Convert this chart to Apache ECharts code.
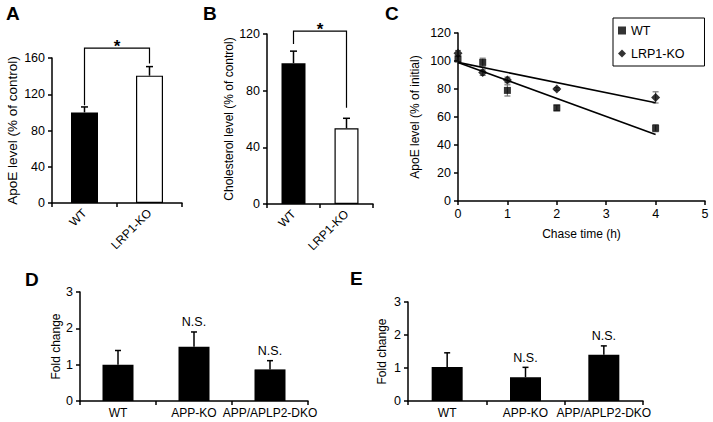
<!DOCTYPE html>
<html>
<head>
<meta charset="utf-8">
<script src="https://cdn.jsdelivr.net/npm/echarts@6/dist/echarts.min.js"></script>
<style>
html,body{margin:0;padding:0;background:#fff;}
#main{width:713px;height:422px;}
</style>
</head>
<body>
<div id="main"></div>
<script>
// ---- Data ----
const catsAB = ['WT', 'LRP1-KO'];
const apoeA = [100, 140.5];
const apoeAErr = [6, 10];
const bracketA = [0, 1, 108, 171, 154];   // from idx, to idx, left bottom, top, right bottom
const cholB = [99.4, 53.5];
const cholBErr = [8.5, 7];
const bracketB = [0, 1, 113, 122, 68];

const chaseTime = [0, 0.5, 1, 2, 4];
const wtC = [101.5, 99, 79, 66.5, 52];
const wtCErr = [2, 3, 4, 2, 2.5];
const koC = [105.5, 91.7, 86.5, 80, 74];
const koCErr = [2, 2, 2, 1, 4];
const wtFit = [[0, 99], [4, 47.5]];
const koFit = [[0, 99], [4, 70.2]];
const cTicksX = [0, 5, 1];
const cTicksY = [0, 120, 20];

const catsDE = ['WT', 'APP-KO', 'APP/APLP2-DKO'];
const foldD = [1.0, 1.49, 0.87];
const foldDErr = [0.39, 0.41, 0.24];
const foldE = [1.03, 0.72, 1.4];
const foldEErr = [0.43, 0.3, 0.27];
const nsDE = ['', 'N.S.', 'N.S.'];

const panelLabels = ['A', 'B', 'C', 'D', 'E'];

// ---- Helpers ----
const font = 'Liberation Sans, Arial, Helvetica, sans-serif';
const axLine = {show: true, lineStyle: {color: '#000', width: 1.5}};
const axTick = {show: true, length: 4, lineStyle: {color: '#000', width: 1.5}};

function yAx(grid, max, interval, name, gap, nameSize) {
  return {
    type: 'value', gridIndex: grid, min: 0, max: max, interval: interval,
    name: name, nameLocation: 'middle', nameGap: gap,
    nameTextStyle: {fontSize: nameSize, color: '#000', fontFamily: font},
    axisLine: axLine, axisTick: axTick,
    axisLabel: {color: '#000', fontSize: 12.5, margin: 7, fontFamily: font},
    splitLine: {show: false}
  };
}
function xCat(grid, data, rotate) {
  return {
    type: 'category', gridIndex: grid, data: data,
    axisLine: axLine, axisTick: {show: true, length: 4, alignWithLabel: false, lineStyle: {color: '#000', width: 1.5}},
    axisLabel: {color: '#000', fontSize: 12, margin: rotate ? 8 : 6, rotate: rotate, interval: 0, fontFamily: font},
    splitLine: {show: false}
  };
}
function errRender(capHalf, both, color, width, labels) {
  return function (params, api) {
    const x = api.value(0), v = api.value(1), e = api.value(2);
    const top = api.coord([x, v + e]);
    const base = api.coord([x, both ? v - e : v]);
    const st = {stroke: color, lineWidth: width};
    const ch = [
      {type: 'line', shape: {x1: top[0], y1: top[1], x2: base[0], y2: base[1]}, style: st},
      {type: 'line', shape: {x1: top[0] - capHalf, y1: top[1], x2: top[0] + capHalf, y2: top[1]}, style: st}
    ];
    if (both) ch.push({type: 'line', shape: {x1: base[0] - capHalf, y1: base[1], x2: base[0] + capHalf, y2: base[1]}, style: st});
    if (labels && labels[params.dataIndex]) {
      ch.push({type: 'text', x: top[0], y: top[1] - 3,
        style: {text: labels[params.dataIndex], fill: '#000', font: '12.5px ' + font, align: 'center', verticalAlign: 'bottom'}});
    }
    return {type: 'group', children: ch};
  };
}
function bracketRender(params, api) {
  const a = api.value(0), b = api.value(1);
  const lb = api.coord([a, api.value(2)]);
  const lt = api.coord([a, api.value(3)]);
  const rt = api.coord([b, api.value(3)]);
  const rb = api.coord([b, api.value(4)]);
  return {type: 'group', children: [
    {type: 'polyline', shape: {points: [lb, lt, rt, rb]}, style: {stroke: '#000', lineWidth: 1.2, fill: null}},
    {type: 'text', x: (lt[0] + rt[0]) / 2, y: lt[1] - 2,
      style: {text: '*', fill: '#000', font: 'bold 17px ' + font, align: 'center', verticalAlign: 'middle'}}
  ]};
}
function barData(vals, styles) {
  return vals.map((v, i) => ({value: v, itemStyle: styles[i]}));
}
const blackBar = {color: '#000'};
const whiteBar = {color: '#fff', borderColor: '#000', borderWidth: 1.2};

const chart = echarts.init(document.getElementById('main'), null, {renderer: 'svg'});
const labelPos = [[6, 4], [203, 4], [385, 4], [25, 270], [350, 269]];

chart.setOption({
  animation: false,
  backgroundColor: '#fff',
  textStyle: {fontFamily: font},
  title: panelLabels.map((t, i) => ({
    text: t, left: labelPos[i][0], top: labelPos[i][1], padding: 0,
    textStyle: {fontSize: 19, fontWeight: 'bold', color: '#000', fontFamily: font}
  })),
  legend: {
    data: [{name: 'WT', icon: 'rect'}, {name: 'LRP1-KO', icon: 'diamond'}],
    orient: 'vertical', left: 613, top: 18, itemWidth: 8, itemHeight: 8, itemGap: 10,
    padding: [6, 20, 6, 5], borderColor: '#000', borderWidth: 1, selectedMode: false,
    textStyle: {fontSize: 12.5, color: '#000', fontFamily: font}
  },
  grid: [
    {left: 52, top: 58, width: 130, height: 145},
    {left: 267, top: 34, width: 106, height: 170},
    {left: 458, top: 33, width: 247, height: 168},
    {left: 80, top: 292, width: 228, height: 109},
    {left: 408, top: 302, width: 235, height: 99}
  ],
  xAxis: [
    xCat(0, catsAB, 45),
    xCat(1, catsAB, 45),
    {type: 'value', gridIndex: 2, min: cTicksX[0], max: cTicksX[1], interval: cTicksX[2],
      name: 'Chase time (h)', nameLocation: 'middle', nameGap: 27,
      nameTextStyle: {fontSize: 12, color: '#000', fontFamily: font},
      axisLine: axLine, axisTick: axTick,
      axisLabel: {color: '#000', fontSize: 12.5, margin: 6, fontFamily: font}, splitLine: {show: false}},
    xCat(3, catsDE, 0),
    xCat(4, catsDE, 0)
  ],
  yAxis: [
    yAx(0, 160, 40, 'ApoE level (% of control)', 33, 13.5),
    yAx(1, 120, 40, 'Cholesterol level (% of control)', 32, 12),
    yAx(2, cTicksY[1], cTicksY[2], 'ApoE level (% of initial)', 37, 12),
    yAx(3, 3, 1, 'Fold change', 18, 12),
    yAx(4, 3, 1, 'Fold change', 20, 12)
  ],
  series: [
    // A
    {type: 'bar', xAxisIndex: 0, yAxisIndex: 0, barWidth: 27, data: barData(apoeA, [blackBar, whiteBar])},
    {type: 'custom', xAxisIndex: 0, yAxisIndex: 0, z: 5, encode: {x: 0, y: 1},
      data: apoeA.map((v, i) => [i, v, apoeAErr[i]]), renderItem: errRender(3.5, false, '#000', 1.5)},
    {type: 'custom', xAxisIndex: 0, yAxisIndex: 0, z: 5, encode: {x: [0, 1], y: [2, 3, 4]},
      data: [bracketA], renderItem: bracketRender},
    // B
    {type: 'bar', xAxisIndex: 1, yAxisIndex: 1, barWidth: 24, data: barData(cholB, [blackBar, whiteBar])},
    {type: 'custom', xAxisIndex: 1, yAxisIndex: 1, z: 5, encode: {x: 0, y: 1},
      data: cholB.map((v, i) => [i, v, cholBErr[i]]), renderItem: errRender(3.5, false, '#000', 1.5)},
    {type: 'custom', xAxisIndex: 1, yAxisIndex: 1, z: 5, encode: {x: [0, 1], y: [2, 3, 4]},
      data: [bracketB], renderItem: bracketRender},
    // C
    {type: 'line', name: 'WT fit', xAxisIndex: 2, yAxisIndex: 2, data: wtFit, showSymbol: false, silent: true,
      lineStyle: {color: '#000', width: 1.6}, itemStyle: {color: '#000'}},
    {type: 'line', name: 'LRP1-KO fit', xAxisIndex: 2, yAxisIndex: 2, data: koFit, showSymbol: false, silent: true,
      lineStyle: {color: '#000', width: 1.6}, itemStyle: {color: '#000'}},
    {type: 'custom', xAxisIndex: 2, yAxisIndex: 2, z: 3, encode: {x: 0, y: 1},
      data: chaseTime.map((t, i) => [t, wtC[i], wtCErr[i]]), renderItem: errRender(3, true, '#777', 1.2)},
    {type: 'custom', xAxisIndex: 2, yAxisIndex: 2, z: 3, encode: {x: 0, y: 1},
      data: chaseTime.map((t, i) => [t, koC[i], koCErr[i]]), renderItem: errRender(3, true, '#777', 1.2)},
    {type: 'scatter', name: 'WT', xAxisIndex: 2, yAxisIndex: 2, z: 4, symbol: 'rect', symbolSize: 7,
      itemStyle: {color: '#000'}, data: chaseTime.map((t, i) => [t, wtC[i]])},
    {type: 'scatter', name: 'LRP1-KO', xAxisIndex: 2, yAxisIndex: 2, z: 4, symbol: 'diamond', symbolSize: 9,
      itemStyle: {color: '#000'}, data: chaseTime.map((t, i) => [t, koC[i]])},
    // D
    {type: 'bar', xAxisIndex: 3, yAxisIndex: 3, barWidth: 31, itemStyle: {color: '#000'}, data: foldD},
    {type: 'custom', xAxisIndex: 3, yAxisIndex: 3, z: 5, encode: {x: 0, y: 1},
      data: foldD.map((v, i) => [i, v, foldDErr[i]]), renderItem: errRender(3, false, '#000', 1.5, nsDE)},
    // E
    {type: 'bar', xAxisIndex: 4, yAxisIndex: 4, barWidth: 31, itemStyle: {color: '#000'}, data: foldE},
    {type: 'custom', xAxisIndex: 4, yAxisIndex: 4, z: 5, encode: {x: 0, y: 1},
      data: foldE.map((v, i) => [i, v, foldEErr[i]]), renderItem: errRender(3, false, '#000', 1.5, nsDE)}
  ]
});
</script>
</body>
</html>
